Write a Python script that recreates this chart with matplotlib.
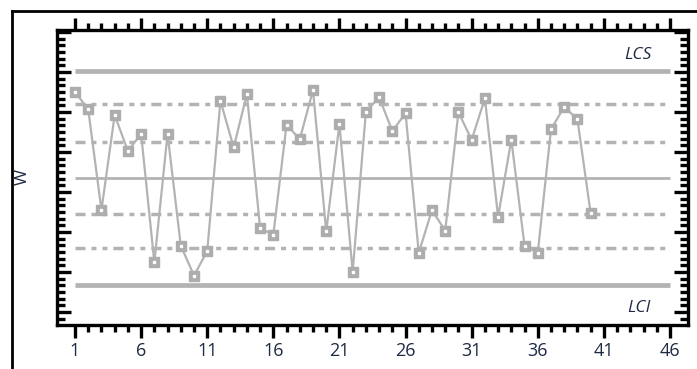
import matplotlib
matplotlib.use("Agg")
import matplotlib.pyplot as plt
from matplotlib.lines import Line2D
from matplotlib.ticker import FixedLocator, NullFormatter
import numpy as np

plt.rcParams['lines.scale_dashes'] = False

# ---- data ----
samples = list(range(1, 41))
w_values = [2.41, 1.92, -0.91, 1.76, 0.75, 1.23, -2.38, 1.23, -1.91, -2.75,
            -2.06, 2.16, 0.85, 2.35, -1.42, -1.60, 1.49, 1.08, 2.46, -1.51,
            1.51, -2.65, 1.85, 2.26, 1.31, 1.81, -2.11, -0.91, -1.49, 1.84,
            1.06, 2.23, -1.10, 1.07, -1.91, -2.11, 1.36, 1.99, 1.64, -1.00]
center_line = 0.0
lcs = 3.0
lci = -3.0
upper_zones = [2.08, 1.01]
lower_zones = [-1.01, -1.97]
x_tick_labels = [str(v) for v in range(1, 47, 5)]
limit_labels = ["LCS", "LCI"]

W, H = 697, 369
fig = plt.figure(figsize=(W / 100, H / 100), dpi=100)
fig.patch.set_facecolor('white')

# outer frame (left and top edges visible)
fig.add_artist(Line2D([12 / W, 12 / W], [0, 1 - 11 / H], transform=fig.transFigure,
                      color='black', lw=2))
fig.add_artist(Line2D([12 / W, 1], [1 - 11 / H, 1 - 11 / H], transform=fig.transFigure,
                      color='black', lw=2))

left, right, top, bottom = 57, 688, 30, 325
ax = fig.add_axes([left / W, 1 - bottom / H, (right - left) / W, (bottom - top) / H])

gray = '#b3b3b3'
x0, x1 = 1, 46

ax.hlines([lcs, lci], x0, x1, colors=gray, lw=3.4, zorder=2)
ax.hlines([center_line], x0, x1, colors=gray, lw=2.0, zorder=2)
dash = (7.2, 4.3, 3.6, 4.3, 3.6, 4.3)
for yv in upper_zones + lower_zones:
    ax.plot([x0, x1], [yv, yv], color=gray, lw=2.5, dashes=dash, zorder=2,
            solid_capstyle='butt', dash_capstyle='butt')

ax.plot(samples, w_values, color=gray, lw=1.6, zorder=3)
ax.plot(samples, w_values, ls='none', marker='s', ms=7.2, mfc='#adadad',
        mec='#adadad', zorder=4)
ax.plot(samples, w_values, ls='none', marker='s', ms=1.6, mfc='white',
        mec='white', zorder=5)

ax.text(44.64, 3.45, limit_labels[0], ha='right', va='center', style='italic',
        fontsize=12.5, color='#1f2a44', family='Open Sans')
ax.text(44.5, -3.66, limit_labels[1], ha='right', va='center', style='italic',
        fontsize=12.5, color='#1f2a44', family='Open Sans')

px_per_unit_x = 13.222
xmin = 1 - (75 - left) / px_per_unit_x
ax.set_xlim(xmin, xmin + (right - left) / px_per_unit_x)
py = 35.6
ax.set_ylim(-(bottom - 177.7) / py, (177.7 - top) / py)

ax.xaxis.set_major_locator(FixedLocator(list(range(1, 47, 5))))
ax.xaxis.set_minor_locator(FixedLocator(list(range(1, 47))))
ax.set_xticklabels(x_tick_labels)
ax.tick_params(axis='x', which='major', direction='out', length=9, width=2.4,
               top=True, labeltop=False, labelsize=13, labelcolor='#1f2a44', pad=3)
ax.tick_params(axis='x', which='minor', direction='out', length=5, width=2.4,
               top=True)
for lbl in ax.get_xticklabels():
    lbl.set_family('Open Sans')

ymaj = np.arange(-3.77, 4.2, 40 / py)
ymin_t = np.arange(-3.77 - 40 / py, 4.2, 40 / py / 6)
ax.yaxis.set_major_locator(FixedLocator(list(ymaj)))
ax.yaxis.set_minor_locator(FixedLocator(list(ymin_t)))
ax.yaxis.set_major_formatter(NullFormatter())
ax.tick_params(axis='y', which='major', direction='in', length=10, width=2.4,
               right=True)
ax.tick_params(axis='y', which='minor', direction='in', length=6, width=2.4,
               right=True)

for s in ax.spines.values():
    s.set_linewidth(2.4)
    s.set_color('black')

fig.text(23 / W, 1 - 177 / H, 'W', rotation=90, ha='center', va='center',
         fontsize=12.5, color='#1f2a44', family='Open Sans')

fig.savefig('out.png', dpi=100)
